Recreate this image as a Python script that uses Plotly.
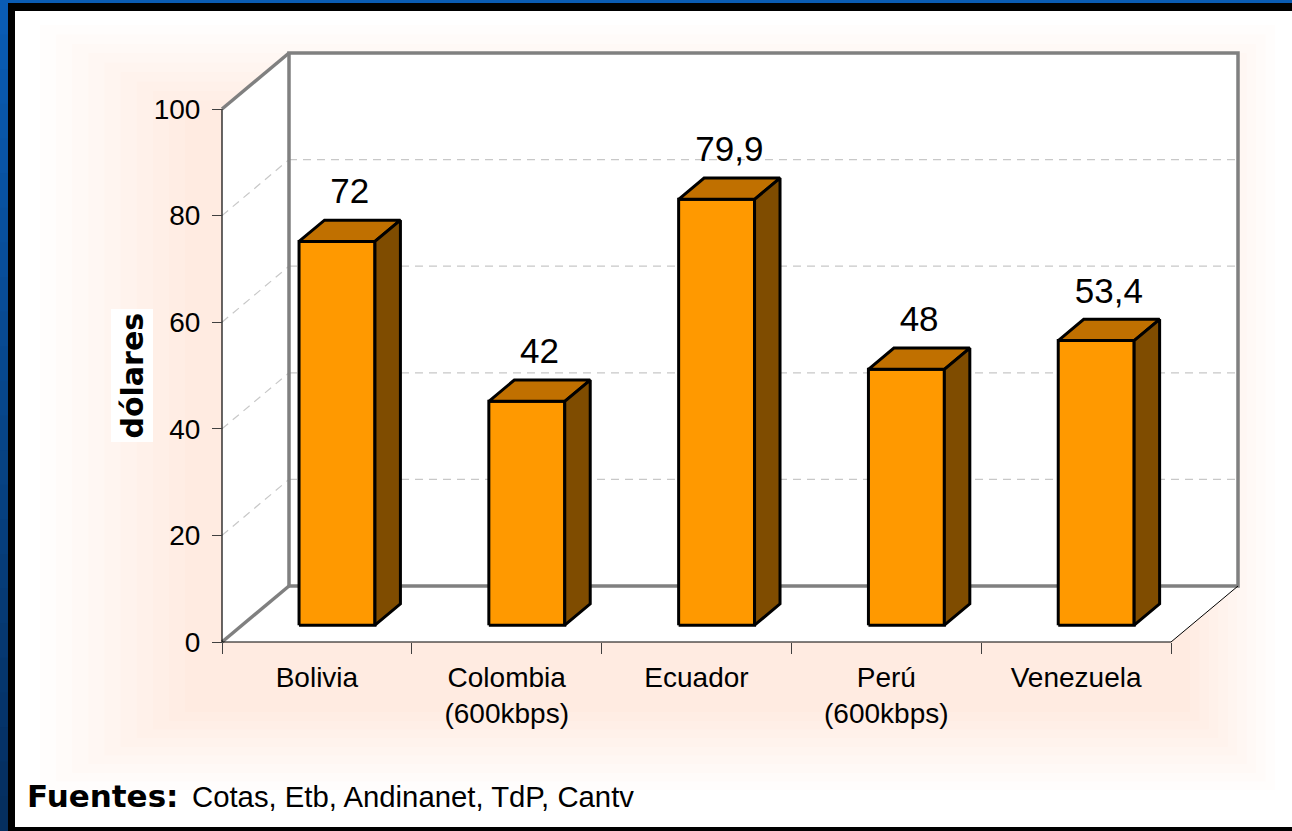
"""Costo de acceso banda ancha - barras 3D estilo Excel (Plotly)"""
import plotly.graph_objects as go

# datos
categories = ["Bolivia", "Colombia<br>(600kbps)", "Ecuador", "Perú<br>(600kbps)", "Venezuela"]
values = [72, 42, 79.9, 48, 53.4]
y_ticks = [0, 20, 40, 60, 80, 100]
y_title = "dólares"
source_label = "Fuentes:"
source_text = "Cotas, Etb, Andinanet, TdP, Cantv"

FONT = "Liberation Sans, Arial, sans-serif"
W, H = 1292, 831
ML, MR, MT, MB = 180, 30, 30, 160

# geometria en pixeles del grafico 3D
X0_PX, Y0_PX = 222, 642        # origen frontal
CAT_PX = 189.8                 # px por categoria
VAL_PX = 5.33                  # px por unidad
DX = 67 / CAT_PX               # profundidad en unidades de x
DY = 56 / VAL_PX               # profundidad en unidades de y
BAR_W = 0.4
F0, BD = 0.30, 0.38            # posicion / grosor de la barra en profundidad
LABEL_GAP = 8 / VAL_PX         # separacion extra de las etiquetas

FRONT, TOP, SIDE = "#FF9900", "#C07000", "#7F4C00"
WALL = "#808080"
GRID = "#C8C8C8"

n = len(categories)
x_rng = [(ML - X0_PX) / CAT_PX, (W - MR - X0_PX) / CAT_PX]
y_rng = [(Y0_PX - (H - MB)) / VAL_PX, (Y0_PX - MT) / VAL_PX]


def px_x(p):
    return (p - ML) / (W - ML - MR)


def px_y(p):
    return (H - MB - p) / (H - MT - MB)


fig = go.Figure()


def poly(xs, ys, fill=None, color="black", width=1, dash=None):
    fig.add_trace(go.Scatter(
        x=xs, y=ys, mode="lines", hoverinfo="skip", showlegend=False,
        fill="toself" if fill else None, fillcolor=fill,
        line=dict(color=color, width=width, dash=dash),
    ))


top = max(y_ticks)

# paredes
poly([0, 0, DX, DX, 0], [0, top, top + DY, DY, 0], fill="white", color="rgba(0,0,0,0)")
poly([0, n, n + DX, DX, 0], [0, 0, DY, DY, 0], fill="white", color="rgba(0,0,0,0)")
poly([DX, DX, n + DX, n + DX, DX], [DY, top + DY, top + DY, DY, DY], fill="white", color="rgba(0,0,0,0)")

# lineas de division
for v in y_ticks[1:-1]:
    poly([DX, n + DX], [v + DY, v + DY], color=GRID, width=1.2, dash="8px,6px")
    poly([0, DX], [v, v + DY], color=GRID, width=1.2, dash="8px,6px")

# bordes
poly([DX, DX, n + DX, n + DX, DX], [DY, top + DY, top + DY, DY, DY], color=WALL, width=3.5)
poly([0, DX], [top, top + DY], color=WALL, width=3.5)
poly([0, DX], [0, DY], color=WALL, width=3.5)
poly([n, n + DX], [0, DY], color="black", width=1)
poly([0, n], [0, 0], color="black", width=1.2)
poly([0, 0], [0, top], color="black", width=1.2)

# barras
lab_x, lab_y, lab_t = [], [], []
for i, v in enumerate(values):
    c = i + 0.5
    xl = c - BAR_W / 2 + F0 * DX
    xr = c + BAR_W / 2 + F0 * DX
    zb = F0 * DY
    bx, by = BD * DX, BD * DY
    poly([xl, xr, xr, xl, xl], [zb, zb, zb + v, zb + v, zb], fill=FRONT, width=3)
    poly([xl, xr, xr + bx, xl + bx, xl], [zb + v, zb + v, zb + v + by, zb + v + by, zb + v], fill=TOP, width=3)
    poly([xr, xr + bx, xr + bx, xr, xr], [zb, zb + by, zb + v + by, zb + v, zb], fill=SIDE, width=3)
    lab_x.append(c + (F0 + BD / 2) * DX)
    lab_y.append(v + (F0 + BD) * DY + LABEL_GAP)
    lab_t.append(f"{v:g}".replace(".", ","))

fig.add_trace(go.Scatter(
    x=lab_x, y=lab_y, text=lab_t, mode="text", textposition="top center",
    textfont=dict(family=FONT, size=35, color="black"),
    hoverinfo="skip", showlegend=False, cliponaxis=False,
))

# resplandor durazno detras del grafico
outer = (40, 25, 1275, 790)
inner = (185, 110, 1190, 712)
steps = 10
shapes = []
for k in range(steps):
    t = k / (steps - 1)
    x0 = outer[0] + (inner[0] - outer[0]) * t
    y0 = outer[1] + (inner[1] - outer[1]) * t
    x1 = outer[2] + (inner[2] - outer[2]) * t
    y1 = outer[3] + (inner[3] - outer[3]) * t
    shapes.append(dict(type="rect", xref="paper", yref="paper", layer="below",
                       x0=px_x(x0), x1=px_x(x1), y0=px_y(y1), y1=px_y(y0),
                       fillcolor="rgba(248,200,165,0.03)", line=dict(width=0)))

# marco azul / negro
segs = 24
for k in range(segs):
    a = k / (segs - 1)
    col = f"rgb({int(10 - 5 * a)},{int(92 - 45 * a)},{int(180 - 85 * a)})"
    shapes.append(dict(type="rect", xref="paper", yref="paper", layer="above",
                       x0=px_x(0), x1=px_x(9), y0=px_y(H * (k + 1) / segs + 1.5), y1=px_y(H * k / segs),
                       fillcolor=col, line=dict(width=0)))
shapes += [
    dict(type="rect", xref="paper", yref="paper", layer="above", x0=px_x(0), x1=px_x(W),
         y0=px_y(3.5), y1=px_y(0), fillcolor="rgb(10,92,180)", line=dict(width=0)),
    dict(type="rect", xref="paper", yref="paper", layer="above", x0=px_x(8), x1=px_x(W),
         y0=px_y(11), y1=px_y(3), fillcolor="black", line=dict(width=0)),
    dict(type="rect", xref="paper", yref="paper", layer="above", x0=px_x(8), x1=px_x(15),
         y0=px_y(H), y1=px_y(3), fillcolor="black", line=dict(width=0)),
    dict(type="rect", xref="paper", yref="paper", layer="above", x0=px_x(8), x1=px_x(W),
         y0=px_y(H), y1=px_y(827), fillcolor="black", line=dict(width=0)),
]

annotations = [
    dict(text=y_title, xref="paper", yref="paper", x=px_x(110), y=px_y(376),
         textangle=-90, showarrow=False, bgcolor="white", borderpad=3,
         font=dict(family="DejaVu Sans", size=30, color="black", weight="bold")),
    dict(text=source_label, xref="paper", yref="paper", x=px_x(25), y=px_y(796),
         xanchor="left", yanchor="middle", showarrow=False,
         font=dict(family="DejaVu Sans", size=31, color="black", weight="bold")),
    dict(text=source_text, xref="paper", yref="paper", x=px_x(190), y=px_y(796),
         xanchor="left", yanchor="middle", showarrow=False,
         font=dict(family=FONT, size=29.3, color="black")),
]

fig.update_layout(
    width=W, height=H,
    margin=dict(l=ML, r=MR, t=MT, b=MB),
    paper_bgcolor="white", plot_bgcolor="rgba(0,0,0,0)",
    font=dict(family=FONT, size=28, color="black"),
    showlegend=False,
    shapes=shapes, annotations=annotations,
    xaxis=dict(
        range=x_rng, anchor="free", position=(0 - y_rng[0]) / (y_rng[1] - y_rng[0]),
        tickmode="array", tickvals=[i + 0.5 for i in range(n)], ticktext=categories,
        ticks="", showgrid=False, zeroline=False, showline=False,
        ticklabelstandoff=16, tickfont=dict(size=28),
        minor=dict(tickmode="array", tickvals=list(range(n + 1)), ticks="outside",
                   ticklen=11, tickcolor="#404040", tickwidth=1, showgrid=False),
    ),
    yaxis=dict(
        range=y_rng, anchor="free", position=(0 - x_rng[0]) / (x_rng[1] - x_rng[0]),
        tickmode="array", tickvals=y_ticks, ticks="outside", ticklen=10,
        tickcolor="#404040", tickwidth=1, showgrid=False, zeroline=False, showline=False,
        ticklabelstandoff=6, tickfont=dict(size=28),
    ),
)

fig.write_html("out.html", config={"displayModeBar": False},
               post_script="document.body.style.margin='0';"
                           "document.body.style.overflow='hidden';")
